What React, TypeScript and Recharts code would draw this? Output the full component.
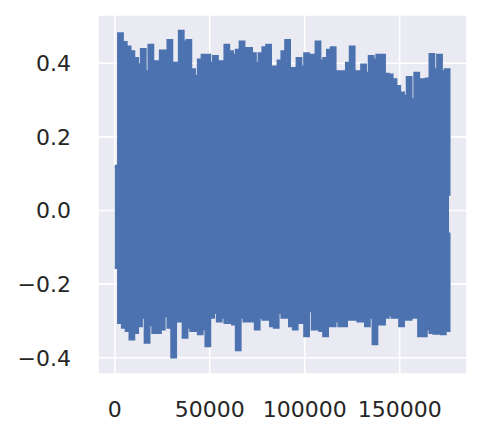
import { AreaChart, Area, XAxis, YAxis, CartesianGrid } from "recharts";

// sample index step of the trace (x axis)
const STEP = 2000;

// upper envelope of the signal
const hi = [
  0.12, 0.48, 0.456, 0.444, 0.431, 0.413, 0.396, 0.437, 0.377, 0.449,
  0.404, 0.404, 0.433, 0.433, 0.462, 0.4, 0.4, 0.487, 0.458, 0.462,
  0.382, 0.364, 0.409, 0.422, 0.422, 0.4, 0.418, 0.404, 0.404, 0.449,
  0.431, 0.422, 0.435, 0.458, 0.44, 0.44, 0.426, 0.4, 0.426, 0.442,
  0.449, 0.39, 0.39, 0.406, 0.431, 0.462, 0.386, 0.386, 0.413, 0.39,
  0.426, 0.422, 0.422, 0.458, 0.406, 0.413, 0.435, 0.442, 0.377, 0.377,
  0.377, 0.4, 0.444, 0.377, 0.377, 0.395, 0.373, 0.418, 0.409, 0.422,
  0.422, 0.37, 0.368, 0.355, 0.337, 0.319, 0.31, 0.361, 0.301, 0.373,
  0.355, 0.355, 0.357, 0.424, 0.382, 0.422, 0.377, 0.382, 0.04,
];

// lower envelope of the signal
const lo = [
  -0.155, -0.304, -0.317, -0.326, -0.349, -0.331, -0.313, -0.29, -0.358, -0.31,
  -0.331, -0.331, -0.322, -0.286, -0.317, -0.398, -0.3, -0.3, -0.344, -0.317,
  -0.326, -0.326, -0.335, -0.322, -0.367, -0.29, -0.277, -0.3, -0.29, -0.304,
  -0.304, -0.308, -0.378, -0.29, -0.3, -0.3, -0.3, -0.322, -0.29, -0.295,
  -0.295, -0.313, -0.317, -0.277, -0.29, -0.29, -0.313, -0.322, -0.304, -0.304,
  -0.34, -0.272, -0.322, -0.322, -0.326, -0.34, -0.313, -0.313, -0.3, -0.313,
  -0.313, -0.295, -0.295, -0.295, -0.3, -0.3, -0.313, -0.29, -0.362, -0.308,
  -0.308, -0.29, -0.283, -0.29, -0.29, -0.313, -0.295, -0.295, -0.29, -0.29,
  -0.34, -0.34, -0.322, -0.331, -0.333, -0.333, -0.335, -0.326, -0.06,
];

const xTicks = [0, 50000, 100000, 150000];
const yTicks = [-0.4, -0.2, 0, 0.2, 0.4];

const data = hi.map((h, i) => ({ x: i * STEP, range: [lo[i], h] }));

const fmtY = (v: number) => {
  const s = Math.abs(v).toFixed(1);
  return v < 0 ? "\u2212" + s : s;
};

const tickStyle = { fill: "#262626", fontSize: 22, fontFamily: "DejaVu Sans" };

export default function App() {
  return (
    <AreaChart
      width={472}
      height={426}
      data={data}
      margin={{ top: 7, right: 13, left: 0, bottom: 0 }}
    >
      <CartesianGrid fill="#EAEAF2" stroke="#ffffff" strokeWidth={1.6} />
      <XAxis
        dataKey="x"
        type="number"
        domain={[-8840, 185470]}
        ticks={xTicks}
        axisLine={false}
        tickLine={false}
        tickMargin={21}
        height={60}
        tick={tickStyle}
        allowDataOverflow
      />
      <YAxis
        type="number"
        domain={[-0.444, 0.531]}
        ticks={yTicks}
        tickFormatter={fmtY}
        axisLine={false}
        tickLine={false}
        tickMargin={21}
        width={90}
        tick={tickStyle}
        allowDataOverflow
      />
      <Area
        dataKey="range"
        type="stepAfter"
        stroke="#4C72B0"
        strokeWidth={3}
        fill="#4C72B0"
        fillOpacity={1}
        isAnimationActive={false}
        dot={false}
        activeDot={false}
      />
    </AreaChart>
  );
}
